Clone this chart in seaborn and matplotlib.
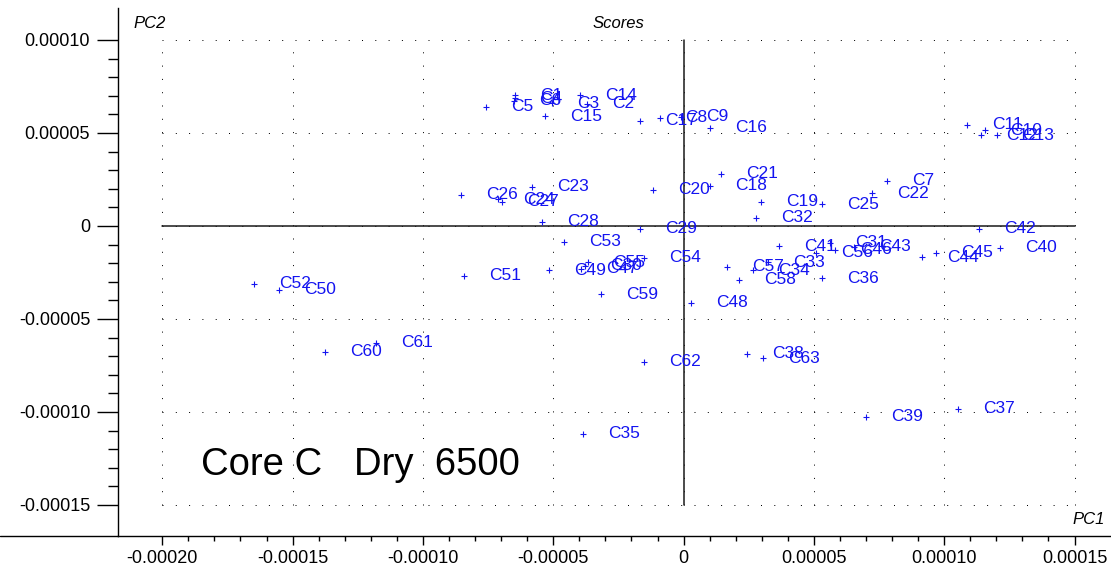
import numpy as np
import pandas as pd
import matplotlib
matplotlib.use("Agg")
import matplotlib.pyplot as plt
from matplotlib.lines import Line2D
from matplotlib.ticker import FixedLocator
import seaborn as sns

labels = ["C1", "C2", "C3", "C4", "C5", "C6", "C7", "C8", "C9", "C10",
          "C11", "C12", "C13", "C14", "C15", "C16", "C17", "C18", "C19", "C20",
          "C21", "C22", "C23", "C24", "C25", "C26", "C27", "C28", "C29", "C30",
          "C31", "C32", "C33", "C34", "C35", "C36", "C37", "C38", "C39", "C40",
          "C41", "C42", "C43", "C44", "C45", "C46", "C47", "C48", "C49", "C50",
          "C51", "C52", "C53", "C54", "C55", "C56", "C57", "C58", "C59", "C60",
          "C61", "C62", "C63"]
pc1 = [-6.46e-5, -3.70e-5, -5.04e-5, -6.46e-5, -7.58e-5, -6.50e-5, 7.81e-5, -0.90e-5, -0.09e-5, 11.58e-5,
       10.88e-5, 11.42e-5, 12.04e-5, -3.97e-5, -5.31e-5, 1.02e-5, -1.67e-5, 1.02e-5, 2.98e-5, -1.17e-5,
       1.44e-5, 7.24e-5, -5.81e-5, -7.12e-5, 5.32e-5, -8.54e-5, -6.96e-5, -5.43e-5, -1.67e-5, -3.78e-5,
       5.63e-5, 2.79e-5, 3.25e-5, 2.67e-5, -3.85e-5, 5.32e-5, 10.54e-5, 2.44e-5, 7.01e-5, 12.15e-5,
       3.67e-5, 11.35e-5, 6.55e-5, 9.16e-5, 9.70e-5, 5.82e-5, -3.93e-5, 0.29e-5, -5.16e-5, -15.52e-5,
       -8.42e-5, -16.48e-5, -4.58e-5, -1.51e-5, -3.66e-5, 5.09e-5, 1.67e-5, 2.13e-5, -3.16e-5, -13.76e-5,
       -11.80e-5, -1.51e-5, 3.06e-5]
pc2 = [7.04e-5, 6.56e-5, 6.61e-5, 6.88e-5, 6.40e-5, 6.72e-5, 2.42e-5, 5.81e-5, 5.86e-5, 5.16e-5,
       5.43e-5, 4.89e-5, 4.89e-5, 7.04e-5, 5.91e-5, 5.27e-5, 5.65e-5, 2.15e-5, 1.29e-5, 1.94e-5,
       2.80e-5, 1.77e-5, 2.10e-5, 1.45e-5, 1.18e-5, 1.67e-5, 1.29e-5, 0.22e-5, -0.16e-5, -2.15e-5,
       -0.91e-5, 0.43e-5, -1.94e-5, -2.37e-5, -11.18e-5, -2.80e-5, -9.84e-5, -6.88e-5, -10.27e-5, -1.18e-5,
       -1.08e-5, -0.16e-5, -1.13e-5, -1.67e-5, -1.45e-5, -1.29e-5, -2.31e-5, -4.14e-5, -2.37e-5, -3.44e-5,
       -2.69e-5, -3.12e-5, -0.86e-5, -1.72e-5, -1.94e-5, -1.45e-5, -2.20e-5, -2.90e-5, -3.66e-5, -6.77e-5,
       -6.29e-5, -7.31e-5, -7.10e-5]

x_ticks = [-0.00020, -0.00015, -0.00010, -0.00005, 0, 0.00005, 0.00010, 0.00015]
y_ticks = [-0.00015, -0.00010, -0.00005, 0, 0.00005, 0.00010]
x_tick_labels = ["-0.00020", "-0.00015", "-0.00010", "-0.00005", "0", "0.00005", "0.00010", "0.00015"]
y_tick_labels = ["-0.00015", "-0.00010", "-0.00005", "0", "0.00005", "0.00010"]

df = pd.DataFrame({"label": labels, "PC1": pc1, "PC2": pc2})

sns.set_style("white")
plt.rcParams["font.family"] = ["Liberation Sans", "DejaVu Sans"]
plt.rcParams["text.color"] = "black"
plt.rcParams["axes.labelcolor"] = "black"
plt.rcParams["xtick.color"] = "black"
plt.rcParams["ytick.color"] = "black"

W, H = 1111, 567
fig = plt.figure(figsize=(W / 100, H / 100), dpi=100)
ax = fig.add_axes([118 / W, 31 / H, (W - 118) / W, (536 - 8) / H])

blue = "#1414f0"
xmin, xmax = -0.000217, 0.000164
ymin, ymax = -0.0001667, 0.0001172

# dotted grid inside the tick box
gx0, gx1 = x_ticks[0], x_ticks[-1]
gy0, gy1 = y_ticks[0], y_ticks[-1]
dots = (0, (1, 12.3))
for xv in x_ticks:
    ax.plot([xv, xv], [gy0, gy1], color="black", lw=0.72, linestyle=dots, zorder=1)
for yv in y_ticks:
    ax.plot([gx0, gx1], [yv, yv], color="black", lw=0.72, linestyle=dots, zorder=1)

# zero axes
ax.plot([gx0, gx1], [0, 0], color="#1a1a1a", lw=1.1, zorder=2)
ax.plot([0, 0], [gy0, gy1], color="#1a1a1a", lw=1.1, zorder=2)

sns.scatterplot(data=df, x="PC1", y="PC2", marker="+", color=blue, s=14,
                linewidth=0.8, ax=ax, zorder=3, legend=False)

for lab, xv, yv in zip(labels, pc1, pc2):
    ax.annotate(lab, (xv, yv), xytext=(18, 0), textcoords="offset points",
                ha="left", va="center", fontsize=12.5, color=blue, zorder=4)

ax.set_xlim(xmin, xmax)
ax.set_ylim(ymin, ymax)
ax.set_xlabel("")
ax.set_ylabel("")

ax.xaxis.set_major_locator(FixedLocator(x_ticks))
ax.yaxis.set_major_locator(FixedLocator(y_ticks))
ax.set_xticklabels(x_tick_labels)
ax.set_yticklabels(y_tick_labels)
xminor = [v for v in np.round(np.arange(-0.00020, 0.000151, 0.00001), 6) if not np.any(np.isclose(v, x_ticks, atol=1e-9))]
yminor = [v for v in np.round(np.arange(-0.00015, 0.000101, 0.00001), 6) if not np.any(np.isclose(v, y_ticks, atol=1e-9))]
ax.xaxis.set_minor_locator(FixedLocator(xminor))
ax.yaxis.set_minor_locator(FixedLocator(yminor))

ax.tick_params(axis="x", which="major", direction="out", length=6.5, width=1, pad=3.5, labelsize=13, colors="black")
ax.tick_params(axis="x", which="minor", direction="out", length=3.6, width=1, colors="black")
ax.tick_params(axis="y", which="major", direction="out", length=15, width=1, pad=5, labelsize=13, colors="black")
ax.tick_params(axis="y", which="minor", direction="out", length=7.2, width=1, colors="black")
ax.tick_params(bottom=True, left=True, which="both")

for side in ["top", "right"]:
    ax.spines[side].set_visible(False)
for side in ["left", "bottom"]:
    ax.spines[side].set_color("black")
    ax.spines[side].set_linewidth(1.0)

# bottom axis line continues to the left figure edge
fig.add_artist(Line2D([0, 118 / W], [31 / H, 31 / H], color="black", lw=1.0))

ax.text((618 - 118) / (W - 118), (536 - 24) / 528, "Scores", transform=ax.transAxes,
        ha="center", va="center", fontsize=12, style="italic", color="black")
ax.text((133 - 118) / (W - 118), (536 - 23) / 528, "PC2", transform=ax.transAxes,
        ha="left", va="center", fontsize=12, style="italic", color="black")
ax.text((1105 - 118) / (W - 118), (536 - 520) / 528, "PC1", transform=ax.transAxes,
        ha="right", va="center", fontsize=12, style="italic", color="black")
ax.text(-0.000185, -0.0001285, "Core C   Dry  6500", ha="left", va="center",
        fontsize=27.5, color="black")

fig.savefig("out.png", dpi=100)
